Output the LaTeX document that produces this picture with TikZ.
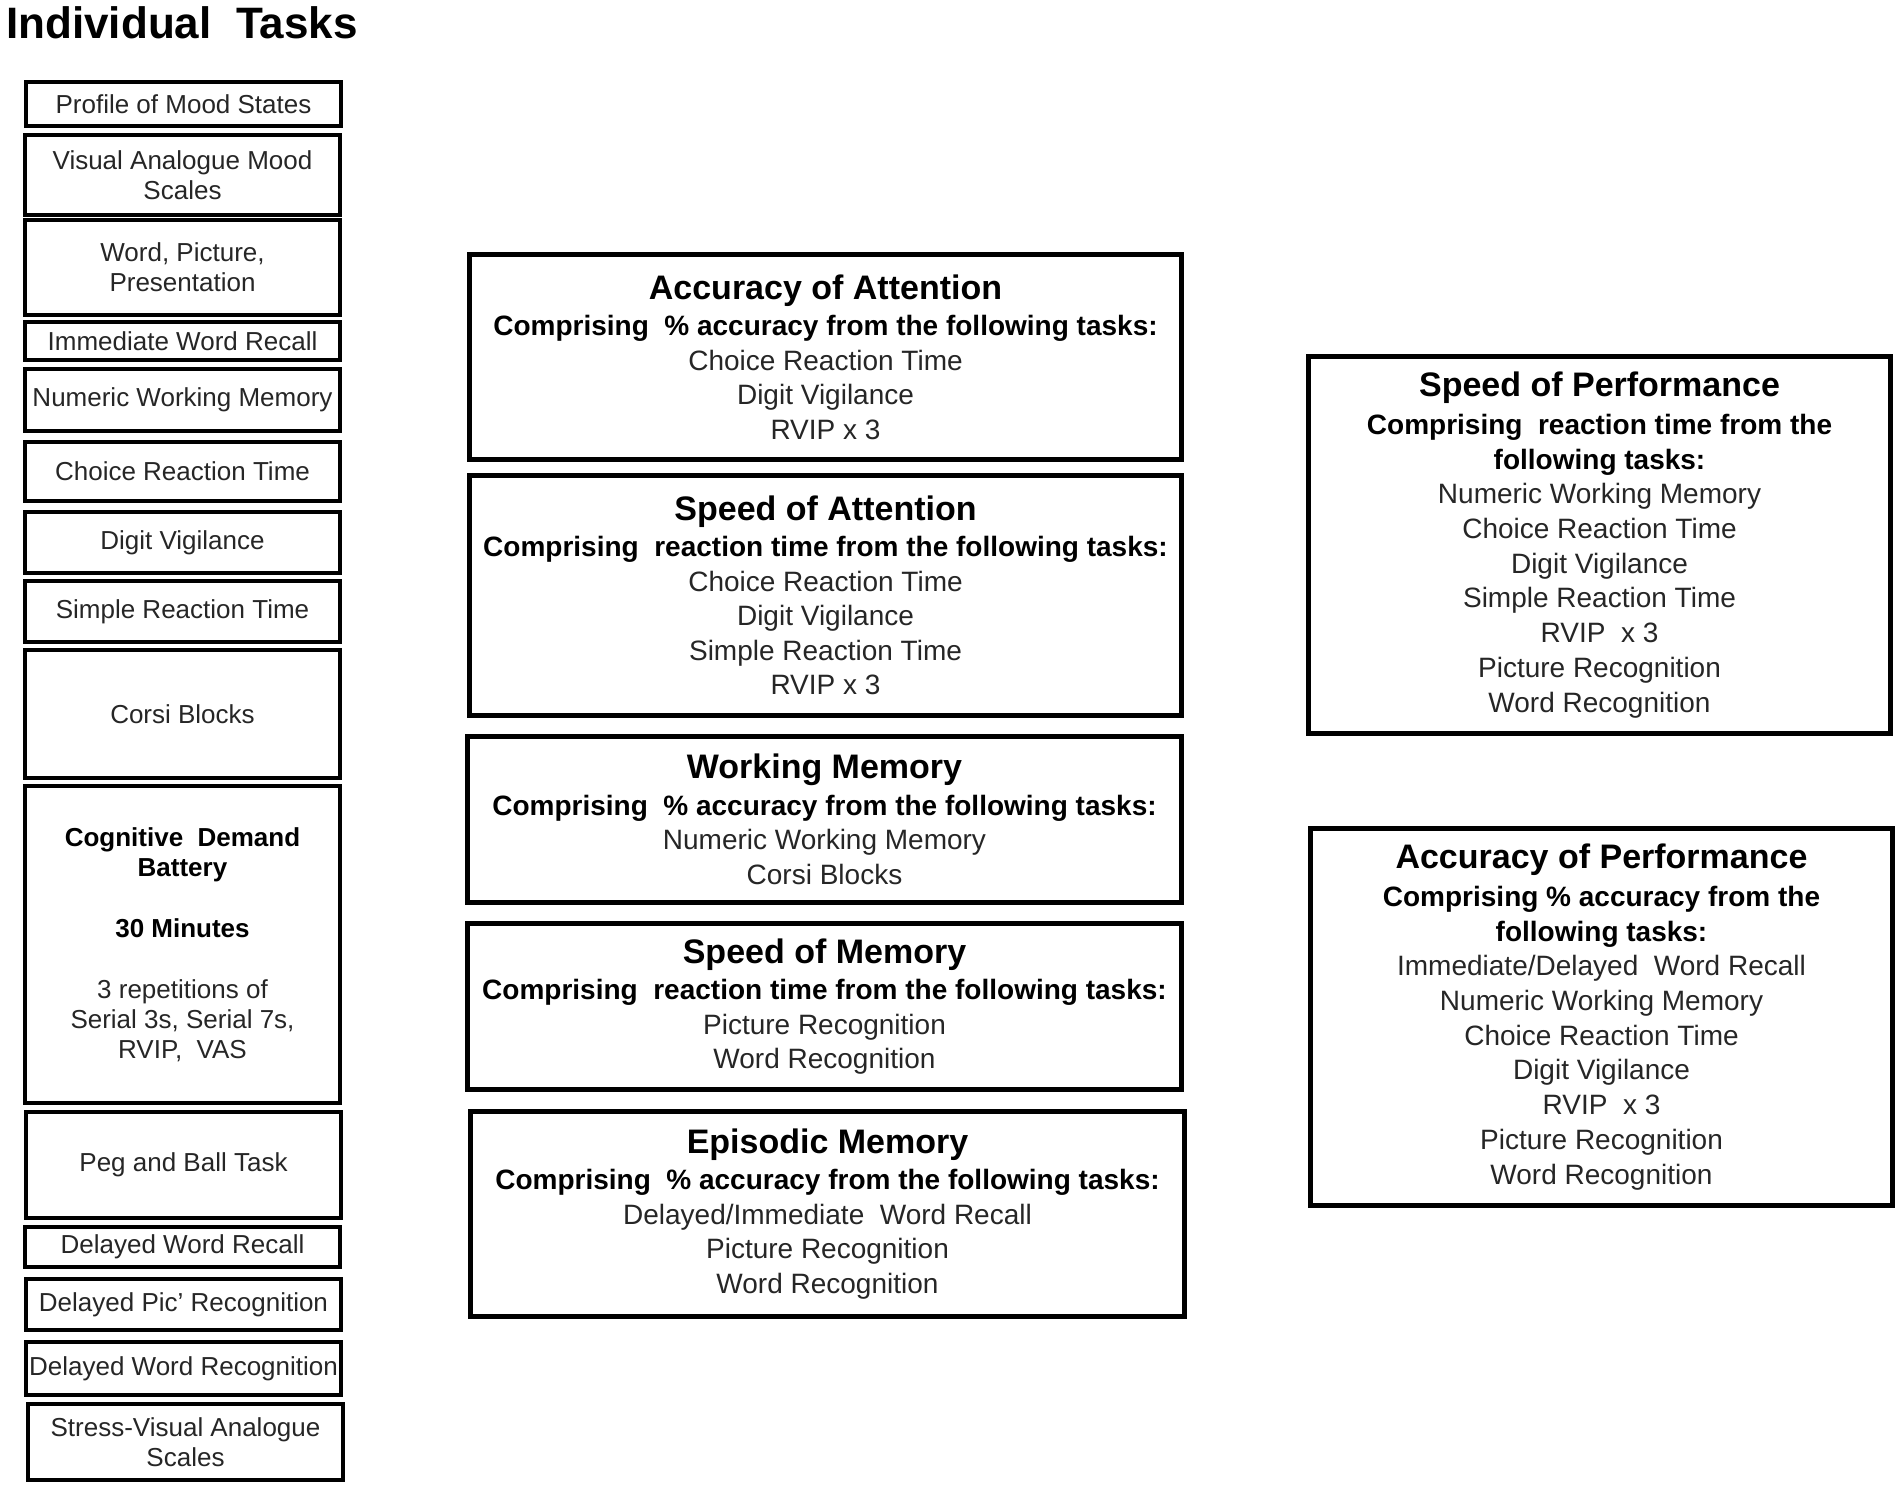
\documentclass[tikz,border=0pt]{standalone}
\usepackage{fontspec}
\setmainfont{Liberation Sans}
\newcommand\ttlA[1]{{\fontsize{34}{34.5}\selectfont\bfseries\color{black}#1}}
\newcommand\bA[1]{{\bfseries\color{black}#1}}
\begin{document}
\begin{tikzpicture}[x=1pt,y=-1pt,
  lbox/.style={draw=black, line width=4pt, inner sep=0pt, align=center,
    font=\fontsize{26}{30}\selectfont, text=black!85},
  mbox/.style={draw=black, line width=5pt, inner sep=0pt, align=center,
    font=\fontsize{28}{34.5}\selectfont, text=black!85},
  rbox/.style={draw=black, line width=5pt, inner sep=0pt, align=center,
    font=\fontsize{28}{34.7}\selectfont, text=black!85}]
\useasboundingbox (0,0) rectangle (1902,1488);
\fill[white] (0,0) rectangle (1902,1488);

\node[anchor=base west, inner sep=0pt, font=\fontsize{44}{48}\selectfont\bfseries] (title) at (6,38) {Individual~ Tasks};

% left column
\node[lbox, minimum width=315pt, minimum height=44pt] (pom) at (183.5,104) {Profile of Mood States};
\node[lbox, minimum width=315pt, minimum height=80pt] (vams) at (182.5,175) {Visual Analogue Mood\\Scales};
\node[lbox, minimum width=315pt, minimum height=95pt] (wpp) at (182.5,267.5) {Word, Picture,\\Presentation};
\node[lbox, minimum width=315pt, minimum height=38pt] (iwr) at (182.5,341) {Immediate Word Recall};
\node[lbox, minimum width=315pt, minimum height=62pt] (nwm) at (182.5,400) {Numeric Working Memory};
\node[lbox, minimum width=315pt, minimum height=59pt] (crt) at (182.5,471.5) {Choice Reaction Time};
\node[lbox, minimum width=315pt, minimum height=61pt] (dv) at (182.5,542.5) {Digit Vigilance};
\node[lbox, minimum width=315pt, minimum height=61pt] (srt) at (182.5,611.5) {Simple Reaction Time};
\node[lbox, minimum width=315pt, minimum height=128pt] (corsi) at (182.5,714) {Corsi Blocks};
\node[lbox, minimum width=315pt, minimum height=317pt] (cdb) at (182.5,944.5)
  {\bA{Cognitive~ Demand}\\\bA{Battery}\\[31pt]\bA{30 Minutes}\\[31pt]3 repetitions of\\Serial 3s, Serial 7s,\\RVIP,~ VAS};
\node[lbox, minimum width=315pt, minimum height=106pt] (peg) at (183.5,1165) {Peg and Ball Task};
\node[lbox, minimum width=315pt, minimum height=40pt] (dwr) at (182.5,1247) {Delayed Word Recall};
\node[lbox, minimum width=315pt, minimum height=51pt] (dpr) at (183.5,1304.5) {Delayed Pic' Recognition};
\node[lbox, minimum width=315pt, minimum height=53pt] (dwrec) at (183.5,1368.5) {Delayed Word Recognition};
\node[lbox, minimum width=315pt, minimum height=76pt] (svas) at (185.5,1442) {Stress-Visual Analogue\\Scales};

% middle column
\node[mbox, minimum width=712pt, minimum height=205pt] (acca) at (825.5,357)
  {\ttlA{Accuracy of Attention}\\[2pt]\bA{Comprising~ \% accuracy from the following tasks:}\\Choice Reaction Time\\Digit Vigilance\\RVIP x 3};
\node[mbox, minimum width=712pt, minimum height=240pt] (spa) at (825.5,595.5)
  {\ttlA{Speed of Attention}\\[2pt]\bA{Comprising~ reaction time from the following tasks:}\\Choice Reaction Time\\Digit Vigilance\\Simple Reaction Time\\RVIP x 3};
\node[mbox, minimum width=714pt, minimum height=166pt] (wm) at (824.5,819.5)
  {\ttlA{Working Memory}\\[2pt]\bA{Comprising~ \% accuracy from the following tasks:}\\Numeric Working Memory\\Corsi Blocks};
\node[mbox, minimum width=714pt, minimum height=166pt] (spm) at (824.5,1006.5)
  {\ttlA{Speed of Memory}\\[2pt]\bA{Comprising~ reaction time from the following tasks:}\\Picture Recognition\\Word Recognition};
\node[mbox, minimum width=714pt, minimum height=205pt] (epi) at (827.5,1214)
  {\ttlA{Episodic Memory}\\[2pt]\bA{Comprising~ \% accuracy from the following tasks:}\\Delayed/Immediate~ Word Recall\\Picture Recognition\\Word Recognition};

% right column
\node[rbox, minimum width=582pt, minimum height=377pt] (spp) at (1599.5,545)
  {\ttlA{Speed of Performance}\\[3pt]\bA{Comprising~ reaction time from the}\\\bA{following tasks:}\\Numeric Working Memory\\Choice Reaction Time\\Digit Vigilance\\Simple Reaction Time\\RVIP~ x 3\\Picture Recognition\\Word Recognition};
\node[rbox, minimum width=582pt, minimum height=377pt] (accp) at (1601.5,1017)
  {\ttlA{Accuracy of Performance}\\[3pt]\bA{Comprising \% accuracy from the}\\\bA{following tasks:}\\Immediate/Delayed~ Word Recall\\Numeric Working Memory\\Choice Reaction Time\\Digit Vigilance\\RVIP~ x 3\\Picture Recognition\\Word Recognition};
\end{tikzpicture}
\end{document}
